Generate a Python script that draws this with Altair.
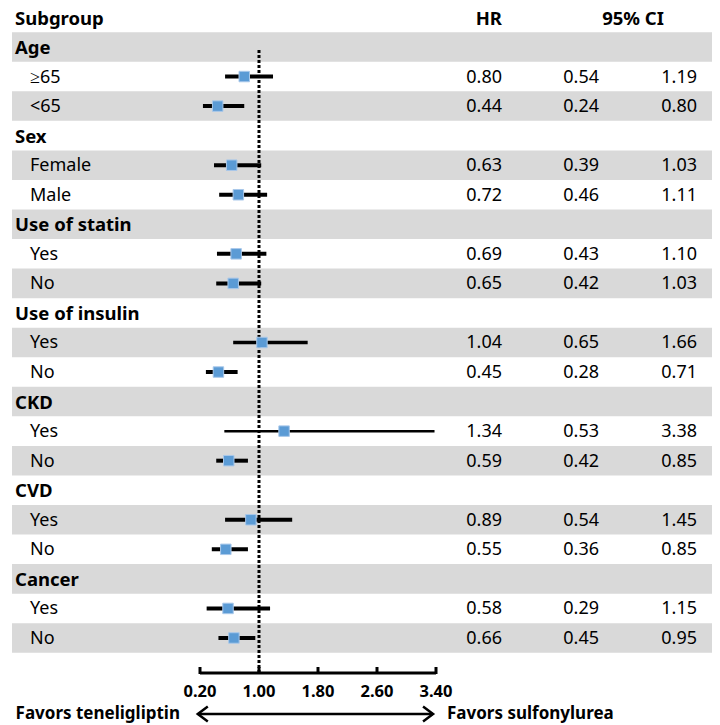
import altair as alt
import pandas as pd

# ---- data ----
labels = ["Age", "≥65", "<65", "Sex", "Female", "Male", "Use of statin", "Yes", "No",
          "Use of insulin", "Yes", "No", "CKD", "Yes", "No", "CVD", "Yes", "No",
          "Cancer", "Yes", "No"]
is_group = [1, 0, 0, 1, 0, 0, 1, 0, 0, 1, 0, 0, 1, 0, 0, 1, 0, 0, 1, 0, 0]
hr = [None, 0.80, 0.44, None, 0.63, 0.72, None, 0.69, 0.65, None, 1.04, 0.45,
      None, 1.34, 0.59, None, 0.89, 0.55, None, 0.58, 0.66]
ci_low = [None, 0.54, 0.24, None, 0.39, 0.46, None, 0.43, 0.42, None, 0.65, 0.28,
          None, 0.53, 0.42, None, 0.54, 0.36, None, 0.29, 0.45]
ci_high = [None, 1.19, 0.80, None, 1.03, 1.11, None, 1.10, 1.03, None, 1.66, 0.71,
           None, 3.38, 0.85, None, 1.45, 0.85, None, 1.15, 0.95]
bar_width = [0, 4, 4, 0, 4, 4, 0, 4, 4, 0, 3.5, 4, 0, 2.5, 4, 0, 4, 4, 0, 4, 4]
tick_values = [0.20, 1.00, 1.80, 2.60, 3.40]
arrow_ends = [0.17, 3.36]

rows = pd.DataFrame({
    "row": list(range(1, len(labels) + 1)),
    "label": labels,
    "group": is_group,
    "hr": hr,
    "lo": ci_low,
    "hi": ci_high,
    "bw": bar_width,
})
rows["band"] = rows["row"] % 2  # odd rows (1,3,5..) shaded
est = rows.dropna(subset=["hr"]).copy()
est["hr_s"] = est["hr"].map(lambda v: f"{v:.2f}")
est["lo_s"] = est["lo"].map(lambda v: f"{v:.2f}")
est["hi_s"] = est["hi"].map(lambda v: f"{v:.2f}")

ticks = pd.DataFrame({"v": tick_values, "lab": [f"{v:.2f}" for v in tick_values]})
axis_line = pd.DataFrame({"a": [tick_values[0]], "b": [tick_values[-1]]})
arrow = pd.DataFrame({"a": [arrow_ends[0]], "b": [arrow_ends[1]]})
ref = pd.DataFrame({"v": [1.0]})
header = pd.DataFrame({"row": [0]})

FONT = "Noto Sans"
FS = 18
FSB = 18.5
W, H = 704, 717
x_scale = alt.Scale(domain=[-2.4034, 7.1424], nice=False, zero=False)
y_scale = alt.Scale(domain=[-0.3198, 23.945], nice=False, zero=False, reverse=True)
X = lambda f: alt.X(f, type="quantitative", scale=x_scale, axis=None)
Y = lambda f: alt.Y(f, type="quantitative", scale=y_scale, axis=None)

bands = alt.Chart(rows).transform_filter("datum.band == 1").transform_calculate(
    y0="datum.row - 0.5", y1="datum.row + 0.5"
).mark_rect(color="#D9D9D9").encode(
    x=alt.value(4), x2=alt.value(710), y=Y("y0"), y2=alt.Y2("y1")
)

group_text = alt.Chart(rows).transform_filter("datum.group == 1").mark_text(
    align="left", baseline="middle", dy=1, font=FONT, fontSize=FSB, fontWeight="bold", color="black"
).encode(x=alt.value(7), y=Y("row"), text="label:N")

sub_text = alt.Chart(rows).transform_filter("datum.group == 0").mark_text(
    align="left", baseline="middle", dy=1, font=FONT, fontSize=FS, color="black"
).encode(x=alt.value(22), y=Y("row"), text="label:N")

hdr_sub = alt.Chart(header).mark_text(
    align="left", baseline="middle", dy=2, font=FONT, fontSize=FSB, fontWeight="bold", text="Subgroup"
).encode(x=alt.value(7), y=Y("row"))
hdr_hr = alt.Chart(header).mark_text(
    align="right", baseline="middle", dy=2, font=FONT, fontSize=FSB, fontWeight="bold", text="HR"
).encode(x=alt.value(494), y=Y("row"))
hdr_ci = alt.Chart(header).mark_text(
    align="center", baseline="middle", dy=2, font=FONT, fontSize=FSB, fontWeight="bold", text="95% CI"
).encode(x=alt.value(625), y=Y("row"))

col_hr = alt.Chart(est).mark_text(align="right", baseline="middle", dy=1, font=FONT, fontSize=FS).encode(
    x=alt.value(494), y=Y("row"), text="hr_s:N")
col_lo = alt.Chart(est).mark_text(align="right", baseline="middle", dy=1, font=FONT, fontSize=FS).encode(
    x=alt.value(591), y=Y("row"), text="lo_s:N")
col_hi = alt.Chart(est).mark_text(align="right", baseline="middle", dy=1, font=FONT, fontSize=FS).encode(
    x=alt.value(689), y=Y("row"), text="hi_s:N")

ref_line = alt.Chart(ref).mark_rule(color="black", strokeWidth=3, strokeDash=[3, 2]).encode(
    x=X("v"), y=alt.value(42), y2=alt.value(665))

ci_bars = alt.Chart(est).mark_rule(color="black").encode(
    x=X("lo"), x2=alt.X2("hi"), y=Y("row"),
    strokeWidth=alt.StrokeWidth("bw:Q", scale=None, legend=None))

points = alt.Chart(est).mark_point(
    shape="square", filled=True, size=110, fill="#5B9BD5", stroke="#A9C8EA", strokeWidth=1, opacity=1
).encode(x=X("hr"), y=Y("row"))

ax_line = alt.Chart(axis_line).mark_rule(color="black", strokeWidth=3).encode(
    x=X("a"), x2=alt.X2("b"), y=alt.value(665))
ax_ticks = alt.Chart(ticks).mark_rule(color="black", strokeWidth=3).encode(
    x=X("v"), y=alt.value(659), y2=alt.value(666))
ax_labels = alt.Chart(ticks).mark_text(
    baseline="middle", align="center", font=FONT, fontSize=16.5, fontWeight="bold", color="black"
).encode(x=X("v"), y=alt.value(684), text="lab:N")

arr_line = alt.Chart(arrow).mark_rule(color="black", strokeWidth=2.5).encode(
    x=X("a"), x2=alt.X2("b"), y=alt.value(706))
arr_left = alt.Chart(arrow).mark_point(
    shape="M1,-0.75L0,0L1,0.75", size=400, filled=False, stroke="black", strokeWidth=2.5, opacity=1
).encode(x=X("a"), y=alt.value(706))
arr_right = alt.Chart(arrow).mark_point(
    shape="M-1,-0.75L0,0L-1,0.75", size=400, filled=False, stroke="black", strokeWidth=2.5, opacity=1
).encode(x=X("b"), y=alt.value(706))
fav_left = alt.Chart(arrow).mark_text(
    align="right", baseline="middle", font=FONT, fontSize=17, fontWeight="bold", text="Favors teneligliptin"
).encode(x=alt.value(172), y=alt.value(706))
fav_right = alt.Chart(arrow).mark_text(
    align="left", baseline="middle", font=FONT, fontSize=17, fontWeight="bold", text="Favors sulfonylurea"
).encode(x=alt.value(439), y=alt.value(706))

chart = alt.layer(
    bands, group_text, sub_text, hdr_sub, hdr_hr, hdr_ci, col_hr, col_lo, col_hi,
    ref_line, ci_bars, points, ax_line, ax_ticks, ax_labels,
    arr_line, arr_left, arr_right, fav_left, fav_right
).properties(
    width=W, height=H, padding=0, autosize="none", background="white"
).configure_view(stroke=None)

chart.save("out.html", embed_options={"renderer": "svg", "actions": False})
